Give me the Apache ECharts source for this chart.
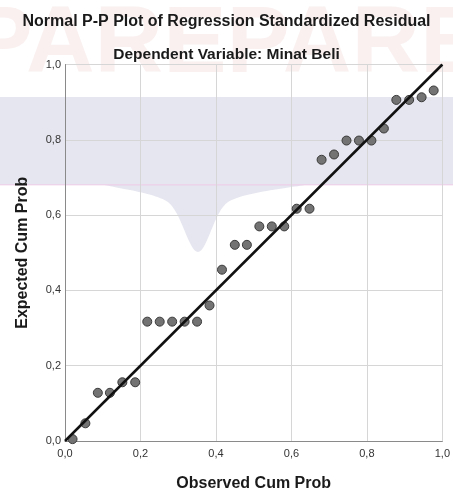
<!DOCTYPE html>
<html>
<head>
<meta charset="utf-8">
<script src="https://cdn.jsdelivr.net/npm/echarts@6/dist/echarts.min.js"></script>
<style>html,body{margin:0;padding:0;background:#fff}#c{width:453px;height:497px}</style>
</head>
<body>
<div id="c"></div>
<script>
var titleText = 'Normal P-P Plot of Regression Standardized Residual';
var subtitleText = 'Dependent Variable: Minat Beli';
var xName = 'Observed Cum Prob';
var yName = 'Expected Cum Prob';
var observed = [0.020,0.054,0.087,0.119,0.152,0.186,0.218,0.251,0.284,0.317,0.350,0.383,0.416,0.450,0.482,0.515,0.548,0.581,0.614,0.648,0.680,0.713,0.746,0.779,0.812,0.845,0.878,0.912,0.945,0.977];
var expected = [0.005,0.047,0.128,0.128,0.156,0.156,0.317,0.317,0.317,0.317,0.317,0.360,0.455,0.521,0.521,0.570,0.570,0.570,0.617,0.617,0.747,0.761,0.798,0.798,0.798,0.830,0.906,0.906,0.913,0.931];
var refLine = [[0,0],[1,1]];

var pts = observed.map(function(x,i){return [x, expected[i]];});
function fmt(v){return v.toFixed(1).replace('.', ',');}
var chart = echarts.init(document.getElementById('c'), null, {renderer:'canvas'});
chart.setOption({
  animation:false,
  backgroundColor:'#fff',
  graphic:[
    {type:'rect', z:-10, shape:{x:0,y:97,width:453,height:88}, style:{fill:'#e6e6f0'}},
    {type:'polygon', z:-10, shape:{smooth:0.3, points:[[105,184],[305,184],[228,202],[198,252],[168,202]]}, style:{fill:'#e6e6f0'}},
    {type:'rect', z:-9, shape:{x:0,y:184,width:453,height:1.5}, style:{fill:'rgba(240,200,230,0.6)'}},
    {type:'text', z:-9, left:'center', top:-2, style:{text:'PAREPARE', font:'bold 95px "Liberation Sans", Arial', fill:'rgba(215,140,140,0.13)'}}
  ],
  title:[
    {text:titleText, left:'center', top:9, textStyle:{fontFamily:'Liberation Sans, Arial', fontSize:16, fontWeight:'bold', color:'#1a1a1a'}},
    {text:subtitleText, left:'center', top:42, textStyle:{fontFamily:'Liberation Sans, Arial', fontSize:15.5, fontWeight:'bold', color:'#1a1a1a'}}
  ],
  grid:{left:65, right:6, top:64.5, bottom:50, containLabel:false},
  xAxis:{type:'value', min:0, max:1, interval:0.2,
    name:xName, nameLocation:'middle', nameGap:35,
    nameTextStyle:{fontFamily:'Liberation Sans, Arial', fontSize:16, fontWeight:'bold', color:'#1a1a1a'},
    axisLine:{show:true, lineStyle:{color:'#8a8a8a', width:1}},
    axisTick:{show:false},
    axisLabel:{formatter:fmt, color:'#333', fontSize:11, fontFamily:'Liberation Sans, Arial', margin:7},
    splitLine:{show:true, lineStyle:{color:'#d6d6d6', width:1}}
  },
  yAxis:{type:'value', min:0, max:1, interval:0.2,
    name:yName, nameLocation:'middle', nameGap:34,
    nameTextStyle:{fontFamily:'Liberation Sans, Arial', fontSize:16, fontWeight:'bold', color:'#1a1a1a'},
    axisLine:{show:true, lineStyle:{color:'#8a8a8a', width:1}},
    axisTick:{show:false},
    axisLabel:{formatter:fmt, color:'#333', fontSize:11, fontFamily:'Liberation Sans, Arial', margin:4},
    splitLine:{show:true, lineStyle:{color:'#d6d6d6', width:1}}
  },
  series:[
    {type:'scatter', data:pts, symbol:'circle', symbolSize:9, z:2,
      itemStyle:{color:'#737373', borderColor:'#3a3a3a', borderWidth:1, opacity:1}},
    {type:'line', data:refLine, showSymbol:false, symbol:'none', z:3,
      lineStyle:{color:'#111', width:2.5}}
  ]
});
</script>
</body>
</html>
